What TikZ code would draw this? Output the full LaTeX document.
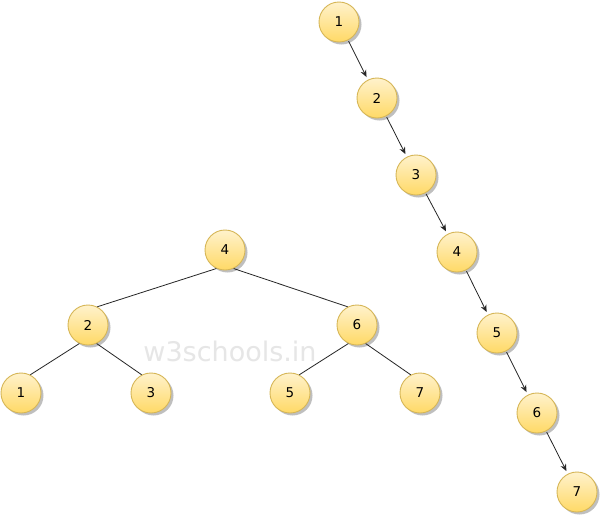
\documentclass[tikz,border=0pt]{standalone}
\usepackage{fontspec}
\setmainfont{DejaVu Sans}
\usetikzlibrary{shadows,arrows.meta}
\definecolor{ytop}{HTML}{FFF2CC}
\definecolor{ybot}{HTML}{FFD966}
\definecolor{yline}{HTML}{D6B656}
\definecolor{wm}{HTML}{E6E6E6}
\tikzset{
  tnode/.style={circle, minimum size=40pt, inner sep=0pt, draw=yline, line width=0.9pt,
    top color=ytop, bottom color=ybot, font=\fontsize{13.5}{13.5}\selectfont,
    drop shadow={shadow xshift=2.5pt, shadow yshift=-2.5pt, fill=black, opacity=0.25}},
  edge/.style={draw=black!85, line width=0.8pt},
  arr/.style={edge, -{Stealth[length=7pt,width=6pt]}, shorten <=1pt, shorten >=3pt}
}
\begin{document}
\begin{tikzpicture}[x=1pt,y=-1pt]
\useasboundingbox[fill=white] (0,0) rectangle (601,517);
\node[text=wm, font=\fontsize{27}{27}\selectfont] (wmk) at (230,351) {w3schools.in};
% chain
\node[tnode] (c1) at (339,22) {1};
\node[tnode] (c2) at (377,98) {2};
\node[tnode] (c3) at (416,175) {3};
\node[tnode] (c4) at (457,252) {4};
\node[tnode] (c5) at (497,333) {5};
\node[tnode] (c6) at (537,413) {6};
\node[tnode] (c7) at (577,492) {7};
\draw[arr] (c1) -- (c2);
\draw[arr] (c2) -- (c3);
\draw[arr] (c3) -- (c4);
\draw[arr] (c4) -- (c5);
\draw[arr] (c5) -- (c6);
\draw[arr] (c6) -- (c7);
% tree
\node[tnode] (t4) at (225,250) {4};
\node[tnode] (t2) at (88,325) {2};
\node[tnode] (t6) at (357,325) {6};
\node[tnode] (t1) at (21,393) {1};
\node[tnode] (t3) at (151,393) {3};
\node[tnode] (t5) at (290,393) {5};
\node[tnode] (t7) at (420,393) {7};
\draw[edge] (t4.-115) -- (t2.63);
\draw[edge] (t4.-65) -- (t6.117);
\draw[edge] (t2.-115) -- (t1.63);
\draw[edge] (t2.-65) -- (t3.117);
\draw[edge] (t6.-115) -- (t5.63);
\draw[edge] (t6.-65) -- (t7.117);
\end{tikzpicture}
\end{document}
